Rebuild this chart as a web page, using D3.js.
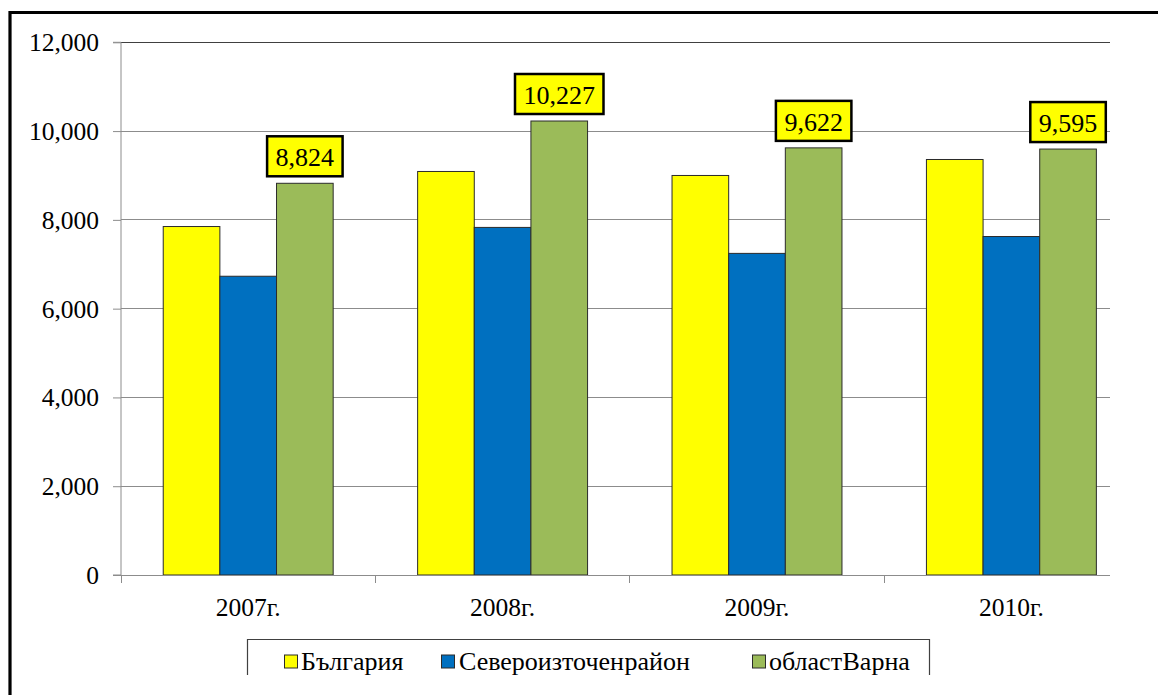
<!DOCTYPE html>
<html>
<head>
<meta charset="utf-8">
<script src="https://cdn.jsdelivr.net/npm/d3@7"></script>
<style>
  html, body { margin: 0; padding: 0; background: #fff; }
  svg { display: block; }
  svg text { font-family: "Liberation Serif", "Times New Roman", serif !important; fill: #000; }
</style>
</head>
<body>
<svg id="chart" width="1158" height="695"></svg>
<script>
// ---- data ----
const categories = ["2007г.", "2008г.", "2009г.", "2010г."];
const seriesNames = ["България", "Североизточен район", "област Варна"];
const bulgaria  = [7850, 9090, 9000, 9360];
const northeast = [6730, 7830, 7245, 7625];
const varna     = [8824, 10227, 9622, 9595];
const yTicks = [0, 2000, 4000, 6000, 8000, 10000, 12000];
const seriesColors = ["#FFFF00", "#0070C0", "#9BBB59"];

const seriesValues = [bulgaria, northeast, varna];

// ---- layout ----
const W = 1158, H = 695;
const plotLeft = 121, plotRight = 1110, plotTop = 42.3, plotBottom = 575;
const bandStep = 254.4;
const FONT = "'Liberation Serif', 'Times New Roman', serif";

const svg = d3.select("#chart");

svg.append("defs").append("clipPath").attr("id", "crop")
  .append("rect").attr("x", 0).attr("y", 0).attr("width", W).attr("height", 675);

const g = svg.append("g").attr("clip-path", "url(#crop)");

const y = d3.scaleLinear().domain([0, 12000]).range([plotBottom, plotTop]);
const x0 = d3.scaleBand().domain(categories)
  .range([plotLeft, plotLeft + bandStep * categories.length]).padding(0);
const x1 = d3.scaleBand().domain(seriesNames)
  .range([bandStep * 0.166, bandStep * 0.834]).padding(0);

// gridlines
g.append("g").selectAll("line").data(yTicks.filter(t => t > 0)).join("line")
  .attr("x1", plotLeft).attr("x2", plotRight)
  .attr("y1", d => y(d)).attr("y2", d => y(d))
  .attr("stroke", d => d === 12000 ? "#404040" : "#8c8c8c")
  .attr("stroke-width", d => d === 12000 ? 1.3 : 1)
  .attr("shape-rendering", "crispEdges");

// y axis
const yAxis = d3.axisLeft(y).tickValues(yTicks).tickFormat(d3.format(",")).tickSize(8).tickPadding(14);
const yg = g.append("g").attr("transform", `translate(${plotLeft},0)`).call(yAxis)
  .attr("font-family", null).attr("font-size", null);
yg.select(".domain").attr("stroke", "#8c8c8c").attr("d", `M-8,${plotTop}H0V${plotBottom}H-8`);
yg.selectAll(".tick line").attr("stroke", "#8c8c8c");
yg.selectAll(".tick text").style("font-size", "25.5px").style("font-family", FONT).attr("fill", "#000").attr("dy", "0.33em");

// bars
const groups = g.append("g").selectAll("g").data(categories).join("g")
  .attr("transform", d => `translate(${x0(d)},0)`);
groups.selectAll("rect").data((c, i) => seriesNames.map((s, j) => ({ s, j, v: seriesValues[j][i] })))
  .join("rect")
  .attr("x", d => x1(d.s))
  .attr("width", x1.bandwidth())
  .attr("y", d => y(d.v))
  .attr("height", d => y(0) - y(d.v))
  .attr("fill", d => seriesColors[d.j])
  .attr("stroke", "#2b2b2b")
  .attr("stroke-width", 1);

// x axis
const xAxisLine = g.append("g");
xAxisLine.append("line").attr("x1", plotLeft).attr("x2", plotRight)
  .attr("y1", plotBottom).attr("y2", plotBottom).attr("stroke", "#8c8c8c")
  .attr("shape-rendering", "crispEdges");
xAxisLine.selectAll("line.tk").data(categories).join("line").attr("class", "tk")
  .attr("x1", d => x0(d)).attr("x2", d => x0(d))
  .attr("y1", plotBottom).attr("y2", plotBottom + 8).attr("stroke", "#8c8c8c")
  .attr("shape-rendering", "crispEdges");
xAxisLine.selectAll("text").data(categories).join("text")
  .attr("x", d => x0(d) + x0.bandwidth() / 2)
  .attr("y", 616)
  .attr("text-anchor", "middle")
  .style("font-size", "25.5px").style("font-family", FONT)
  .text(d => d);

// data labels for Varna
const labels = g.append("g").selectAll("g").data(categories).join("g");
labels.each(function (c, i) {
  const v = varna[i];
  const cx = x0(c) + x1(seriesNames[2]) + x1.bandwidth() / 2;
  const bottom = y(v) - 7;
  const sel = d3.select(this);
  const rect = sel.append("rect");
  const t = sel.append("text")
    .attr("x", cx).attr("y", bottom - 10)
    .attr("text-anchor", "middle")
    .style("font-size", "26px").style("font-family", FONT)
    .text(d3.format(",")(v));
  const tw = t.node().getComputedTextLength();
  rect.attr("x", cx - tw / 2 - 8.5).attr("width", tw + 17)
    .attr("y", bottom - 40).attr("height", 40)
    .attr("fill", "#FFFF00").attr("stroke", "#000").attr("stroke-width", 2.5);
});

// legend (cropped at bottom)
const leg = g.append("g");
leg.append("path")
  .attr("d", "M247.5,680V639.5H929.5V680")
  .attr("fill", "none").attr("stroke", "#404040").attr("stroke-width", 1.2);
const legendSwatchX = [284.5, 441.5, 752.5];
const legendTextX = [301, 459, 769];
seriesNames.forEach((s, j) => {
  leg.append("rect").attr("x", legendSwatchX[j]).attr("y", 655).attr("width", 13).attr("height", 13)
    .attr("fill", seriesColors[j]).attr("stroke", "#2b2b2b").attr("stroke-width", 1);
  leg.append("text").attr("x", legendTextX[j]).attr("y", 670)
    .style("font-size", "26px").style("font-family", FONT)
    .attr("word-spacing", "-6px").text(s);
});

// outer frame
svg.append("path")
  .attr("d", `M10,${H + 5}V12.5H${W + 5}`)
  .attr("fill", "none").attr("stroke", "#000").attr("stroke-width", 3.2);
</script>
</body>
</html>
